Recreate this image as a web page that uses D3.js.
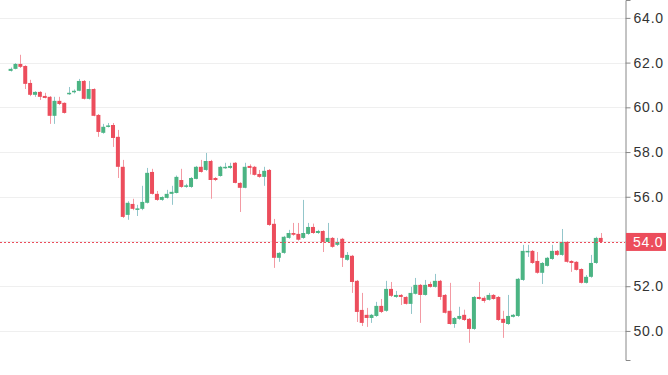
<!DOCTYPE html>
<html>
<head>
<meta charset="utf-8">
<script src="https://cdn.jsdelivr.net/npm/d3@7"></script>
<style>
  body { margin: 0; background: #fff; }
  svg { display: block; font-family: "Liberation Sans", Arial, sans-serif; }
</style>
</head>
<body>
<script>
// OHLC values, one entry per session
var opens = [61.63, 61.72, 61.94, 61.85, 61.09, 60.56, 60.69, 60.51, 60.47, 59.62,
             60.29, 60.20, 60.62, 60.69, 60.74, 61.18, 60.38, 60.82, 59.66, 58.86,
             59.15, 59.21, 58.68, 57.34, 55.19, 55.68, 55.44, 55.46, 55.73, 57.11,
             56.13, 55.86, 55.95, 56.13, 56.17, 56.75, 56.47, 56.44, 56.80, 57.34,
             57.20, 57.60, 56.84, 56.93, 57.29, 57.29, 57.52, 56.62, 56.40, 57.38,
             57.34, 57.02, 56.89, 57.20, 54.79, 53.27, 53.49, 54.16, 54.38, 54.34,
             54.16, 54.34, 54.65, 54.38, 54.47, 53.98, 54.16, 53.85, 54.12, 53.18,
             53.36, 52.24, 50.94, 50.72, 50.58, 50.67, 51.12, 50.90, 51.88, 51.52,
             51.61, 51.52, 51.21, 51.66, 52.06, 51.61, 52.10, 51.97, 52.24, 51.61,
             50.90, 50.31, 50.54, 50.72, 50.54, 50.09, 51.52, 51.48, 51.39, 51.61,
             51.52, 50.54, 50.31, 50.63, 50.67, 52.28, 53.53, 53.58, 53.13, 52.60,
             52.91, 53.22, 53.58, 53.40, 53.98, 53.13, 53.09, 52.77, 52.15, 52.42,
             53.04, 54.16];
var highs = [61.78, 61.98, 62.35, 61.88, 61.23, 60.72, 60.72, 60.65, 60.50, 60.47,
             60.47, 60.22, 60.91, 60.80, 61.27, 61.22, 61.18, 60.85, 59.70, 59.26,
             59.30, 59.30, 58.99, 57.65, 55.80, 55.91, 55.64, 56.49, 57.29, 57.25,
             56.26, 56.02, 56.31, 56.49, 56.95, 57.25, 56.58, 56.88, 57.38, 57.65,
             57.96, 57.65, 56.88, 57.38, 57.52, 57.52, 57.55, 56.65, 57.52, 57.45,
             57.38, 57.20, 57.34, 57.24, 55.01, 53.52, 54.25, 54.52, 54.83, 54.83,
             55.86, 54.83, 54.80, 54.52, 54.50, 54.83, 54.20, 54.16, 54.16, 53.53,
             53.40, 52.28, 51.70, 51.03, 50.76, 51.30, 51.43, 52.24, 52.19, 51.79,
             51.65, 51.55, 51.97, 52.37, 52.10, 52.28, 52.20, 52.55, 52.28, 51.65,
             52.15, 50.62, 51.08, 50.95, 50.58, 51.56, 52.19, 51.55, 51.70, 51.65,
             51.56, 50.90, 51.61, 50.76, 52.37, 53.85, 53.85, 53.62, 53.53, 53.08,
             53.31, 53.85, 53.62, 54.56, 54.02, 53.16, 53.12, 52.80, 52.50, 53.40,
             54.21, 54.38];
var lows = [61.60, 61.70, 61.76, 60.82, 60.50, 60.47, 60.33, 60.40, 59.26, 59.26,
            60.10, 59.72, 60.56, 60.62, 60.72, 60.35, 60.35, 59.60, 58.68, 58.82,
            59.10, 58.23, 56.84, 55.05, 54.97, 55.40, 55.14, 55.40, 55.70, 56.10,
            55.82, 55.82, 55.92, 55.64, 56.15, 56.40, 56.40, 56.40, 56.78, 57.08,
            57.16, 55.91, 56.70, 56.90, 57.25, 57.25, 56.60, 55.32, 56.38, 57.00,
            56.95, 56.85, 56.49, 54.70, 52.82, 53.09, 53.45, 54.12, 54.26, 54.04,
            54.12, 54.30, 54.34, 54.34, 53.53, 53.94, 53.72, 53.80, 52.86, 53.14,
            51.70, 50.40, 50.22, 50.18, 50.36, 50.63, 50.80, 50.86, 51.52, 51.48,
            51.16, 51.18, 50.76, 51.63, 50.36, 51.58, 51.94, 51.94, 51.39, 50.78,
            50.28, 50.14, 50.50, 50.45, 49.47, 50.05, 51.40, 51.26, 51.36, 51.40,
            50.45, 49.69, 50.27, 50.60, 50.63, 52.24, 53.31, 53.00, 52.56, 52.10,
            52.88, 53.18, 53.36, 53.36, 53.05, 52.64, 52.70, 52.12, 52.12, 52.38,
            53.00, 53.95];
var closes = [61.72, 61.94, 61.81, 61.05, 60.56, 60.69, 60.47, 60.42, 59.62, 60.29,
              60.15, 59.75, 60.65, 60.74, 61.18, 60.38, 60.82, 59.62, 58.90, 59.13,
              59.19, 58.63, 57.34, 55.10, 55.73, 55.46, 55.48, 55.77, 57.07, 56.13,
              55.86, 55.99, 56.13, 56.22, 56.89, 56.44, 56.51, 56.84, 57.34, 57.11,
              57.60, 56.75, 56.75, 57.34, 57.34, 57.38, 56.62, 56.40, 57.34, 57.29,
              56.98, 56.89, 57.16, 54.74, 53.27, 53.49, 54.21, 54.38, 54.30, 54.08,
              54.38, 54.65, 54.38, 54.47, 53.98, 54.16, 53.76, 53.98, 53.27, 53.40,
              52.19, 50.85, 50.36, 50.58, 50.72, 51.12, 50.85, 51.88, 51.57, 51.61,
              51.52, 51.21, 51.70, 52.06, 51.61, 52.06, 51.97, 52.24, 51.52, 50.81,
              50.31, 50.58, 50.67, 50.49, 50.09, 51.52, 51.43, 51.34, 51.61, 51.43,
              50.49, 50.36, 50.67, 50.72, 52.33, 53.58, 53.58, 53.04, 52.60, 53.04,
              53.27, 53.58, 53.40, 53.98, 53.09, 53.04, 52.73, 52.15, 52.42, 53.04,
              54.16, 53.98];
var priceTicks = [50, 52, 54, 56, 58, 60, 62, 64];

var w = 668,
    h = 375;

var upColor = '#4bb483',
    downColor = '#ec4d5c',
    upWick = '#93c6cb',
    downWick = '#f39aa3';

var svg = d3.select('body')
            .append('svg')
            .attr('width', w)
            .attr('height', h);

var axisX = 625;

var xScale = d3.scaleBand()
               .domain(d3.range(opens.length))
               .range([8.6, 602.7])
               .paddingInner(0.18);

var yScale = d3.scaleLinear()
               .domain([48.7, 64.8])
               .range([360, 0]);

// horizontal grid
svg.selectAll('line.grid')
   .data(priceTicks)
   .enter()
   .append('line')
   .attr('class', 'grid')
   .attr('x1', 0)
   .attr('x2', axisX)
   .attr('y1', function(d) { return Math.round(yScale(d)) + 0.5; })
   .attr('y2', function(d) { return Math.round(yScale(d)) + 0.5; })
   .attr('stroke', '#efefef')
   .attr('stroke-width', 1);

var candles = svg.selectAll('g.candle')
                 .data(opens)
                 .enter()
                 .append('g')
                 .attr('class', 'candle');

// wicks
candles.append('line')
   .attr('x1', function(d, i) { return Math.round(xScale(i) + xScale.bandwidth() / 2) + 0.5; })
   .attr('x2', function(d, i) { return Math.round(xScale(i) + xScale.bandwidth() / 2) + 0.5; })
   .attr('y1', function(d, i) { return yScale(highs[i]); })
   .attr('y2', function(d, i) { return yScale(lows[i]); })
   .attr('stroke', function(d, i) { return closes[i] >= d ? upWick : downWick; })
   .attr('stroke-width', 1);

// bodies
candles.append('rect')
   .attr('x', function(d, i) { return xScale(i); })
   .attr('width', xScale.bandwidth())
   .attr('y', function(d, i) { return yScale(Math.max(d, closes[i])); })
   .attr('height', function(d, i) {
      return Math.max(1.5, Math.abs(yScale(d) - yScale(closes[i])));
   })
   .attr('fill', function(d, i) { return closes[i] >= d ? upColor : downColor; });

// last price line
var last = closes[closes.length - 1];
svg.append('line')
   .attr('x1', 0)
   .attr('x2', axisX)
   .attr('y1', Math.round(yScale(last)) + 0.5)
   .attr('y2', Math.round(yScale(last)) + 0.5)
   .attr('stroke', downColor)
   .attr('stroke-width', 1)
   .attr('stroke-dasharray', '2,2');

// right axis
var yAxis = d3.axisRight(yScale)
              .tickValues(priceTicks)
              .tickFormat(d3.format('.1f'))
              .tickSize(5)
              .tickPadding(3);

var axisG = svg.append('g')
   .attr('transform', 'translate(' + (axisX + 0.5) + ',0)')
   .call(yAxis);

axisG.select('.domain').attr('stroke', '#888');
axisG.selectAll('.tick line').attr('stroke', '#888');
axisG.selectAll('.tick text')
     .attr('fill', '#333')
     .attr('font-size', '14px')
     .attr('letter-spacing', '0.8px')
     .attr('font-family', '"Liberation Sans", Arial, sans-serif');

// hide the 54.0 tick label, it's covered by the price tag
axisG.selectAll('.tick')
     .filter(function(d) { return d === 54; })
     .select('text')
     .attr('opacity', 0);

// price tag
var tagY = yScale(last);
svg.append('rect')
   .attr('x', axisX + 1)
   .attr('y', tagY - 9)
   .attr('width', 40)
   .attr('height', 18)
   .attr('fill', downColor);

svg.append('text')
   .attr('x', axisX + 8)
   .attr('y', tagY)
   .attr('dy', '0.35em')
   .attr('fill', '#fff')
   .attr('font-size', '14px')
   .attr('letter-spacing', '0.8px')
   .text(d3.format('.1f')(last));
</script>
</body>
</html>
